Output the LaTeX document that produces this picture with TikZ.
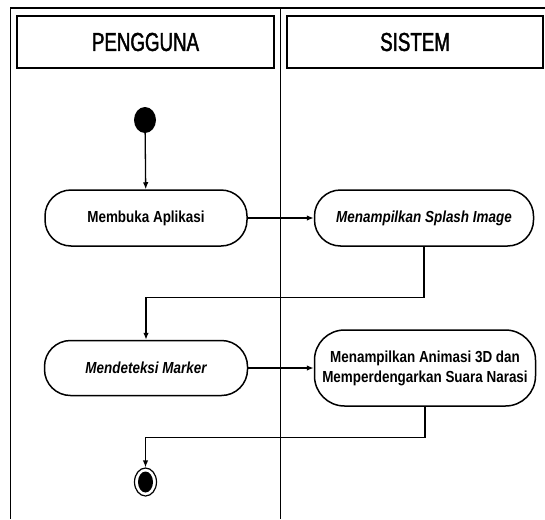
\documentclass[tikz,border=0pt]{standalone}
\usepackage{fontspec}
\setmainfont{Liberation Sans}
\newfontfamily\headfont[FakeStretch=0.72,FakeBold=1.6]{Liberation Sans}
\newfontfamily\actfont[FakeStretch=0.84]{Liberation Sans}
\usetikzlibrary{arrows.meta,shapes.geometric}

\begin{document}
\begin{tikzpicture}[x=1pt,y=-1pt,
  frame/.style={line width=1.8pt},
  lanehead/.style={draw, line width=1.5pt, minimum height=52pt, inner sep=0pt,
    font=\headfont\fontsize{26}{28}\selectfont},
  activity/.style={draw, line width=1.5pt, rounded corners=26pt, inner sep=0pt,
    align=center, font=\actfont\bfseries\fontsize{16}{20}\selectfont},
  flow/.style={line width=1.3pt, -{Latex[length=7pt,width=5.5pt]}}]

\useasboundingbox (0,0) rectangle (545,519);

% swimlane frame
\draw[frame] (545,8) -- (10.5,8) -- (10.5,519);
\draw[line width=1.5pt] (280.5,8) -- (280.5,519);

% lane headers
\node[lanehead, minimum width=257pt] (hUser) at (145.5,42) {PENGGUNA};
\node[lanehead, minimum width=256pt] (hSys) at (415,42) {SISTEM};

% initial and final states
\node[ellipse, fill, inner sep=0pt, minimum width=22pt, minimum height=26pt] (start) at (145,120) {};
\node[ellipse, draw, line width=1.2pt, inner sep=0pt, minimum width=22pt, minimum height=28pt] (stop) at (145.5,482) {};
\fill (stop.center) ellipse (7.5pt and 10.5pt);

% activities
\node[activity, minimum width=202pt, minimum height=56pt] (open) at (146,218) {Membuka Aplikasi};
\node[activity, minimum width=219pt, minimum height=56pt] (splash) at (424,218) {\itshape Menampilkan Splash Image};
\node[activity, minimum width=203pt, minimum height=55pt] (detect) at (146,368) {\itshape Mendeteksi Marker};
\node[activity, rounded corners=30pt, minimum width=221pt, minimum height=76pt] (show) at (425,368)
  {Menampilkan Animasi 3D dan\\Memperdengarkan Suara Narasi};

% control flow
\draw[flow] (start) -- (open);
\draw[flow] (open) -- (splash);
\draw[flow] (splash.south) -- ++(0,50.5) -| (detect.north);
\draw[flow] (detect) -- (show);
\draw[flow] (show.south) -- ++(0,31) -| (stop.north);
\end{tikzpicture}
\end{document}
